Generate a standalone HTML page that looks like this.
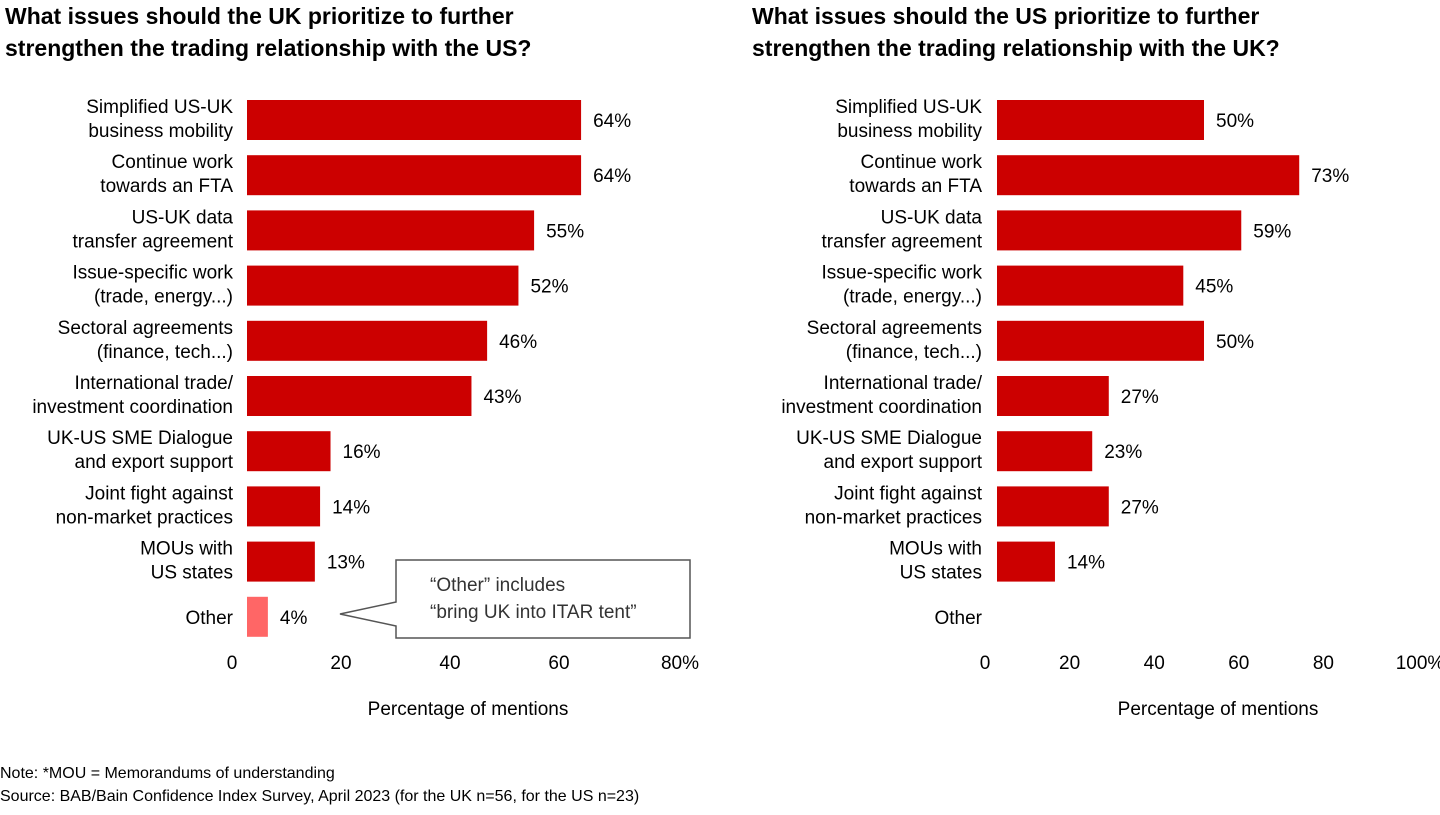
<!DOCTYPE html>
<html><head><meta charset="utf-8"><style>
body{margin:0;background:#fff;font-family:"Liberation Sans",Arial,sans-serif;}
svg text{font-family:"Liberation Sans",Arial,sans-serif;}
</style></head><body>
<svg id="c" width="1440" height="810" xmlns="http://www.w3.org/2000/svg">
<text x="5" y="24" font-size="23" font-weight="bold" fill="#000">What issues should the UK prioritize to further</text>
<text x="5" y="56" font-size="23" font-weight="bold" fill="#000">strengthen the trading relationship with the US?</text>
<text x="752" y="24" font-size="23" font-weight="bold" fill="#000">What issues should the US prioritize to further</text>
<text x="752" y="56" font-size="23" font-weight="bold" fill="#000">strengthen the trading relationship with the UK?</text>
<g id="left"></g>
<g id="right"></g>
<g>
<path d="M396,560 L690,560 L690,638 L396,638 L396,626 L340,614 L396,602 Z" fill="#fff" stroke="#555" stroke-width="1.5"/>
<text x="430" y="591" font-size="19" fill="#333">“Other” includes</text>
<text x="430" y="618" font-size="19" fill="#333">“bring UK into ITAR tent”</text>
</g>
<text x="0" y="778" font-size="16" fill="#000">Note: *MOU = Memorandums of understanding</text>
<text x="0" y="801" font-size="16" fill="#000">Source: BAB/Bain Confidence Index Survey, April 2023 (for the UK n=56, for the US n=23)</text>
</svg>
<script>
const categories1 = ["Simplified US-UK","Continue work","US-UK data","Issue-specific work","Sectoral agreements","International trade/","UK-US SME Dialogue","Joint fight against","MOUs with","Other"];
const categories2 = ["business mobility","towards an FTA","transfer agreement","(trade, energy...)","(finance, tech...)","investment coordination","and export support","non-market practices","US states",""];
const ukValues = [64,64,55,52,46,43,16,14,13,4];
const usValues = [50,73,59,45,50,27,23,27,14,null];
const ukTicks = [0,20,40,60,80];
const usTicks = [0,20,40,60,80,100];

const NS="http://www.w3.org/2000/svg";
function mk(tag,attrs,parent){const e=document.createElementNS(NS,tag);for(const k in attrs)e.setAttribute(k,attrs[k]);parent.appendChild(e);return e;}
function drawPanel(g,vals,ticks,cfg){
  const xs=v=>cfg.barX+v*cfg.barK;
  const xt=v=>cfg.tickX+v*cfg.tickK;
  const yc=i=>120+i*55.2;
  categories1.forEach((c,i)=>{
    const y=yc(i);
    if(categories2[i]){
      const t1=mk('text',{x:cfg.labelX,y:y-7,'font-size':19,'text-anchor':'end',fill:'#000'},g);t1.textContent=c;
      
      
      const t2=mk('text',{x:cfg.labelX,y:y+17,'font-size':19,'text-anchor':'end',fill:'#000'},g);t2.textContent=categories2[i];
      
      
    } else {
      const t=mk('text',{x:cfg.labelX,y:y+7,'font-size':19,'text-anchor':'end',fill:'#000'},g);t.textContent=c;
      
      
    }
    const v=vals[i];
    if(v!=null){
      const r=mk('rect',{x:cfg.barX,y:y-20,width:xs(v)-cfg.barX,height:40,fill:c==='Other'?'#ff6666':'#cc0000'},g);
      
      
      const t=mk('text',{x:xs(v)+12,y:y+7,'font-size':19,fill:'#000'},g);t.textContent=v+'%';
      
      
    }
  });
  ticks.forEach((tv,i)=>{
    const last=i===ticks.length-1;
    const t=mk('text',{x:xt(tv)+(last?12:0),y:669,'font-size':19,'text-anchor':'middle',fill:'#000'},g);
    t.textContent=tv+(last?'%':'');
    
    
  });
  const at=mk('text',{x:cfg.titleX,y:715,'font-size':19,'text-anchor':'middle',fill:'#000'},g);at.textContent='Percentage of mentions';
  
  
}
drawPanel(document.getElementById('left'),ukValues,ukTicks,{barX:247,barK:5.22,tickX:232,tickK:5.45,labelX:233,titleX:468});
drawPanel(document.getElementById('right'),usValues,usTicks,{barX:997,barK:4.14,tickX:985,tickK:4.23,labelX:982,titleX:1218});
</script>
</body></html>
